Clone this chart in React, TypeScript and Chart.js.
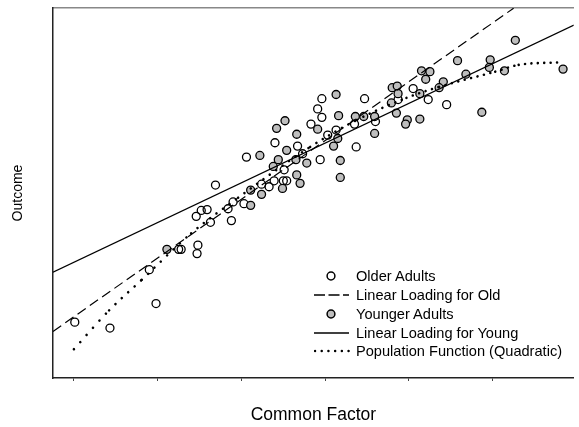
import React, { useEffect, useRef } from "react";
import { Chart, registerables } from "chart.js";

Chart.register(...registerables);

const FONT = "'Liberation Sans', Arial, Helvetica, sans-serif";

// Common Factor tick positions (no labels drawn)
const xTicks = [-3, -2, -1, 0, 1, 2, 3];

// Older adults (open circles)
const olderX = [-2.99, -2.57, -2.02, -2.10, -1.75, -1.72, -1.52, -1.53, -1.54, -1.48, -1.41, -1.37, -1.31, -1.12, -1.16, -1.10, -0.97, -0.94, -0.76, -0.67, -0.61, -0.60, -0.49, -0.50, -0.46, -0.33, -0.27, -0.17, -0.04, -0.09, -0.04, 0.03, 0.13, -0.06, 0.37, 0.35, 0.47, 0.60, 1.05, 0.87, 1.23, 1.45];
const olderY = [-2.14, -2.21, -1.92, -1.52, -1.28, -1.28, -1.23, -1.33, -0.89, -0.82, -0.81, -0.96, -0.52, -0.94, -0.80, -0.72, -0.74, -0.19, -0.51, -0.54, -0.47, -0.02, -0.34, -0.47, -0.47, -0.06, -0.15, 0.20, 0.50, 0.38, 0.28, 0.07, 0.13, -0.22, -0.07, 0.20, 0.50, 0.23, 0.62, 0.49, 0.49, 0.43];

// Younger adults (grey filled circles)
const youngerX = [-1.89, -0.89, -0.89, -0.76, -0.78, -0.62, -0.58, -0.48, -0.34, -0.46, -0.56, -0.35, -0.22, -0.34, -0.30, -0.51, -0.09, 0.15, 0.10, 0.13, 0.16, 0.18, 0.18, 0.36, 0.46, 0.59, 0.59, 0.80, 0.86, 0.87, 0.79, 0.85, 0.98, 0.96, 1.13, 1.13, 1.15, 1.25, 1.20, 1.41, 1.36, 1.58, 1.68, 1.87, 1.97, 1.96, 2.14, 2.27, 2.84];
const youngerY = [-1.28, -0.58, -0.76, -0.63, -0.17, -0.30, 0.15, 0.24, 0.08, -0.11, -0.22, -0.22, -0.26, -0.40, -0.50, -0.56, 0.14, 0.03, -0.06, 0.55, 0.30, -0.23, -0.43, 0.29, 0.29, 0.29, 0.09, 0.63, 0.65, 0.56, 0.45, 0.33, 0.25, 0.20, 0.26, 0.56, 0.83, 0.82, 0.73, 0.70, 0.63, 0.95, 0.79, 0.34, 0.96, 0.87, 0.83, 1.19, 0.85];

// Linear loading for old (dashed)
const oldLineX = [-3.25, 2.25];
const oldLineY = [-2.25, 1.57];

// Linear loading for young (solid)
const youngLineX = [-3.25, 2.97];
const youngLineY = [-1.55, 1.37];

// Population function (quadratic, dotted)
const quadX = [-3.0, -2.58, -2.19, -1.6, -1.04, -0.18, 0.38, 0.97, 1.36, 2.03, 2.31, 2.81];
const quadY = [-2.46, -2.0, -1.64, -1.09, -0.67, -0.07, 0.25, 0.51, 0.64, 0.82, 0.9, 0.93];

const legendLabels = [
  "Older Adults",
  "Linear Loading for Old",
  "Younger Adults",
  "Linear Loading for Young",
  "Population Function (Quadratic)",
];

const X_MIN = -3.25;
const X_MAX = 2.967;
const Y_MIN = -2.8;
const Y_MAX = 1.572;

function pts(xs: number[], ys: number[]) {
  return xs.map((x, i) => ({ x, y: ys[i] }));
}

function Marker({ kind }: { kind: number }) {
  const common = { stroke: "#000" };
  let el: React.ReactNode = null;
  if (kind === 0) el = <circle cx={17} cy={7} r={3.9} fill="none" strokeWidth={1.5} {...common} />;
  if (kind === 1) el = <line x1={0} y1={7} x2={35} y2={7} strokeWidth={1.3} strokeDasharray="11 3.5" {...common} />;
  if (kind === 2) el = <circle cx={17} cy={7} r={3.9} fill="#bebebe" strokeWidth={1.5} {...common} />;
  if (kind === 3) el = <line x1={0} y1={7} x2={35} y2={7} strokeWidth={1.3} {...common} />;
  if (kind === 4)
    el = (
      <line x1={1} y1={7} x2={35} y2={7} strokeWidth={2.5} strokeLinecap="round" strokeDasharray="0.01 6.7" {...common} />
    );
  return (
    <svg width={36} height={14} style={{ position: "absolute", left: 0, top: 2 }}>
      {el}
    </svg>
  );
}

export default function App() {
  const ref = useRef<HTMLCanvasElement>(null);

  useEffect(() => {
    const canvas = ref.current;
    if (!canvas) return;
    Chart.defaults.font.family = FONT;
    const chart = new Chart(canvas, {
      type: "scatter",
      data: {
        datasets: [
          {
            label: "Linear Loading for Old",
            data: pts(oldLineX, oldLineY),
            showLine: true,
            pointRadius: 0,
            borderColor: "#000",
            borderWidth: 1.2,
            borderDash: [10, 5],
            order: 0,
          },
          {
            label: "Linear Loading for Young",
            data: pts(youngLineX, youngLineY),
            showLine: true,
            pointRadius: 0,
            borderColor: "#000",
            borderWidth: 1.2,
            order: 0,
          },
          {
            label: "Population Function (Quadratic)",
            data: pts(quadX, quadY),
            showLine: true,
            pointRadius: 0,
            borderColor: "#000",
            borderWidth: 2.6,
            borderCapStyle: "round",
            borderDash: [0.001, 7],
            cubicInterpolationMode: "monotone",
            segment: {
              borderDash: (ctx: any) => {
                const dx = Math.abs(ctx.p1.x - ctx.p0.x) || 1;
                const dy = ctx.p1.y - ctx.p0.y;
                const len = Math.hypot(dx, dy);
                return [0.001, (6.4 * len) / dx];
              },
            },
            order: 0,
          },
          {
            label: "Older Adults",
            data: pts(olderX, olderY),
            showLine: false,
            pointRadius: 4,
            pointBorderWidth: 1.3,
            pointBackgroundColor: "rgba(0,0,0,0)",
            pointBorderColor: "#000",
            order: 2,
          },
          {
            label: "Younger Adults",
            data: pts(youngerX, youngerY),
            showLine: false,
            pointRadius: 4,
            pointBorderWidth: 1.3,
            pointBackgroundColor: "#bebebe",
            pointBorderColor: "#000",
            order: 1,
          },
        ],
      } as any,
      options: {
        animation: false,
        responsive: true,
        maintainAspectRatio: false,
        layout: { padding: { top: 8, left: 0, right: 0, bottom: 0 } },
        plugins: {
          legend: { display: false },
          tooltip: { enabled: false },
        },
        scales: {
          x: {
            type: "linear",
            position: "bottom",
            min: X_MIN,
            max: X_MAX,
            afterBuildTicks: (scale: any) => {
              scale.ticks = xTicks
                .filter((v) => v >= scale.min && v <= scale.max)
                .map((v) => ({ value: v }));
            },
            ticks: { display: false },
            grid: {
              display: true,
              drawOnChartArea: false,
              drawTicks: true,
              tickLength: 3,
              color: "#444",
              lineWidth: 1,
            },
            border: { display: true, color: "#222", width: 1.5 },
            title: {
              display: true,
              text: "Common Factor",
              color: "#000",
              font: { size: 17.5, family: FONT },
              padding: { top: 23.5, bottom: 1.5 },
            },
          },
          xTop: {
            type: "linear",
            position: "top",
            min: X_MIN,
            max: X_MAX,
            ticks: { display: false },
            grid: { display: false, drawTicks: false },
            border: { display: true, color: "#888", width: 1.5 },
          },
          y: {
            type: "linear",
            position: "left",
            min: Y_MIN,
            max: Y_MAX,
            ticks: { display: false },
            grid: { display: false, drawTicks: false },
            border: { display: true, color: "#222", width: 1.5 },
            title: {
              display: true,
              text: "Outcome",
              color: "#000",
              font: { size: 14, family: FONT },
              padding: { top: 9.6, bottom: 26.6 },
            },
          },
        },
      } as any,
    });
    return () => chart.destroy();
  }, []);

  return (
    <div style={{ position: "fixed", left: 0, top: 0, width: 579, height: 427, background: "#fff" }}>
      <canvas ref={ref} />
      {legendLabels.map((label, i) => (
        <div
          key={label}
          style={{
            position: "absolute",
            left: 314,
            top: 267.9 + i * 18.75 - 0.5,
            height: 18.75,
            width: 265,
            fontFamily: FONT,
            fontSize: 14.6,
            lineHeight: "18.75px",
            color: "#000",
            whiteSpace: "nowrap",
          }}
        >
          <Marker kind={i} />
          <span style={{ position: "absolute", left: 42, top: 0 }}>{label}</span>
        </div>
      ))}
    </div>
  );
}
